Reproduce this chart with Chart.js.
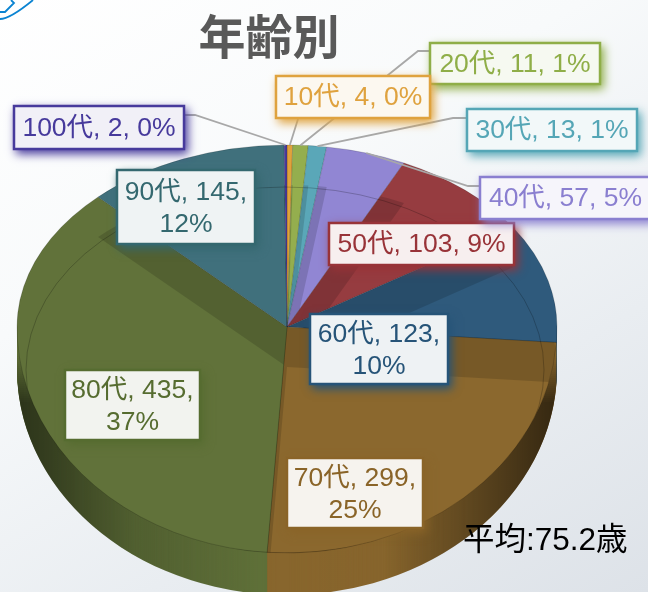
<!DOCTYPE html>
<html>
<head>
<meta charset="utf-8">
<title>年齢別</title>
<script src="https://cdn.jsdelivr.net/npm/chart.js@4"></script>
<style>
  html, body { margin: 0; padding: 0; overflow: hidden; }
  body { width: 648px; height: 592px; background: linear-gradient(150deg, #ffffff 0%, #f8fafb 35%, #e9edf1 70%, #dde2e8 100%); }
  canvas { display: block; }
</style>
</head>
<body>
<canvas id="myChart" width="648" height="592"></canvas>
<script>
const categories = ["10代", "20代", "30代", "40代", "50代", "60代", "70代", "80代", "90代", "100代"];
const counts = [4, 11, 13, 57, 103, 123, 299, 435, 145, 2];
const percents = [0, 1, 1, 5, 9, 10, 25, 37, 12, 0];
const sliceColors = ["#e0a23c", "#94ae4e", "#5aa7b8", "#9186d3", "#963c40", "#2f5a7c", "#8b682e", "#61723a", "#40707c", "#4a3a9a"];
const textColors = ["#dfa23e", "#8fae48", "#55a6b6", "#8a7fd0", "#983338", "#265478", "#8a6428", "#566c30", "#34686f", "#473a9c"];

const chartTitle = "年齢別";
const averageNote = "平均:75.2歳";

// label boxes [left, top, right, bottom], same order as categories
const boxes = [
  [275, 75, 431, 119], [429, 42, 601, 85], [466, 108, 638, 152], [479, 176, 652, 220],
  [328, 222, 515, 266], [309, 313, 449, 385], [286, 457, 424, 529], [64, 369, 201, 441],
  [116, 169, 256, 245], [13, 105, 185, 150],
];
// leader elbows, only the small slices have one
const elbows = { 0: [298, 119], 1: [418, 51], 2: [453, 118], 3: [468, 186], 9: [195, 115] };
const leaderStart = { 0: [298, 119], 1: [429, 51], 2: [466, 118], 3: [479, 186], 9: [185, 115] };

const upperScale = 182 / 270;
const lowerScale = 226 / 270;
const wallDepth = 42;
const shadowDrop = 40;
const labelFont = '26.5px "Liberation Sans", "Noto Sans CJK JP", sans-serif';

function withHalf(ctx, arc, lower, dy, fn) {
  ctx.save();
  ctx.beginPath();
  if (lower) ctx.rect(0, arc.y + dy, 648, 592);
  else ctx.rect(0, 0, 648, arc.y + dy);
  ctx.clip();
  ctx.translate(arc.x, arc.y + dy);
  ctx.scale(1, lower ? lowerScale : upperScale);
  ctx.translate(-arc.x, -arc.y);
  fn();
  ctx.restore();
}

function addSlice(ctx, arc) {
  ctx.moveTo(arc.x, arc.y);
  ctx.arc(arc.x, arc.y, arc.outerRadius, arc.startAngle, arc.endAngle);
  ctx.closePath();
}

function drawWall(ctx, arcs) {
  const a = arcs[0];
  for (let d = wallDepth; d > 0; d--) {
    arcs.forEach((arc, i) => {
      withHalf(ctx, arc, true, d, () => {
        ctx.beginPath();
        addSlice(ctx, arc);
        ctx.fillStyle = sliceColors[i];
        ctx.fill();
      });
    });
  }
  // darker toward both ends of the side wall, fades in lower down where the wall shows
  const g = ctx.createLinearGradient(a.x - a.outerRadius, 0, a.x + a.outerRadius, 0);
  g.addColorStop(0, "rgba(0,0,0,0.55)");
  g.addColorStop(0.22, "rgba(0,0,0,0.16)");
  g.addColorStop(0.45, "rgba(0,0,0,0.02)");
  g.addColorStop(0.68, "rgba(0,0,0,0.03)");
  g.addColorStop(1, "rgba(0,0,0,0.62)");
  for (let y = a.y + 25; y < 592; y += 2) {
    ctx.save();
    ctx.globalAlpha = Math.min(1, (y - a.y - 25) / 50);
    ctx.beginPath();
    ctx.rect(0, y, 648, 2);
    ctx.clip();
    ctx.beginPath();
    ctx.rect(a.x - a.outerRadius, a.y, a.outerRadius * 2, wallDepth);
    ctx.save();
    ctx.translate(a.x, a.y + wallDepth);
    ctx.scale(1, lowerScale);
    ctx.moveTo(a.outerRadius, 0);
    ctx.arc(0, 0, a.outerRadius, 0, Math.PI);
    ctx.closePath();
    ctx.restore();
    ctx.fillStyle = g;
    ctx.fill();
    ctx.restore();
  }
}

// each slice takes the shadow of the others, dropped down a little
function drawShadows(ctx, arcs) {
  [false, true].forEach((lower) => {
    arcs.forEach((arc, i) => {
      ctx.save();
      withClipOf(ctx, arc, lower);
      [false, true].forEach((shadowLower) => {
        withHalf(ctx, arc, shadowLower, shadowDrop, () => {
          ctx.beginPath();
          arcs.forEach((other, j) => {
            if (j !== i) addSlice(ctx, other);
          });
          ctx.fillStyle = "rgba(0,0,0,0.14)";
          ctx.fill();
        });
      });
      ctx.restore();
    });
  });
}

function withClipOf(ctx, arc, lower) {
  const k = lower ? lowerScale : upperScale;
  ctx.beginPath();
  ctx.rect(0, lower ? arc.y : 0, 648, lower ? 592 : arc.y);
  ctx.clip();
  ctx.save();
  ctx.translate(arc.x, arc.y);
  ctx.scale(1, k);
  ctx.translate(-arc.x, -arc.y);
  ctx.beginPath();
  addSlice(ctx, arc);
  ctx.restore();
  ctx.clip();
}

function drawRim(ctx, arcs) {
  const a = arcs[0];
  ctx.save();
  ctx.beginPath();
  ctx.ellipse(a.x, a.y, a.outerRadius, a.outerRadius * upperScale, 0, Math.PI, 0);
  ctx.ellipse(a.x, a.y, a.outerRadius, a.outerRadius * lowerScale, 0, 0, Math.PI);
  ctx.clip();
  ctx.beginPath();
  ctx.ellipse(a.x - 2, a.y + 43, a.outerRadius - 11, 183, 0, 0, Math.PI * 2);
  ctx.strokeStyle = "rgba(0,0,0,0.22)";
  ctx.lineWidth = 1;
  ctx.stroke();
  ctx.restore();
}

function drawLeaders(ctx, arcs) {
  ctx.strokeStyle = "#a8a8a8";
  ctx.lineWidth = 1.8;
  Object.keys(elbows).forEach((k) => {
    const arc = arcs[k];
    const mid = (arc.startAngle + arc.endAngle) / 2;
    const tx = arc.x + Math.cos(mid) * arc.outerRadius;
    const ty = arc.y + Math.sin(mid) * arc.outerRadius * upperScale;
    ctx.beginPath();
    ctx.moveTo(leaderStart[k][0], leaderStart[k][1]);
    ctx.lineTo(elbows[k][0], elbows[k][1]);
    ctx.lineTo(tx, ty);
    ctx.stroke();
  });
}

function drawLabels(ctx) {
  // back to front so 10代 ends up over the corner of 20代
  for (let i = categories.length - 1; i >= 0; i--) {
    const cat = categories[i];
    const [l, t, r, b] = boxes[i];
    const color = textColors[i];
    ctx.save();
    ctx.shadowColor = color;
    ctx.shadowBlur = 9;
    ctx.shadowOffsetX = 3;
    ctx.shadowOffsetY = 4;
    ctx.fillStyle = "#ffffff";
    ctx.fillRect(l, t, r - l, b - t);
    ctx.restore();
    ctx.save();
    ctx.globalAlpha = 0.08;
    ctx.fillStyle = color;
    ctx.fillRect(l, t, r - l, b - t);
    ctx.restore();
    ctx.strokeStyle = color;
    ctx.lineWidth = 2.5;
    ctx.strokeRect(l + 1, t + 1, r - l - 2, b - t - 2);

    ctx.fillStyle = color;
    ctx.font = labelFont;
    ctx.textAlign = "center";
    ctx.textBaseline = "middle";
    const cx = (l + r) / 2;
    const cy = (t + b) / 2;
    if (b - t > 60) {
      ctx.fillText(`${cat}, ${counts[i]},`, cx, cy - 14.5);
      ctx.fillText(`${percents[i]}%`, cx, cy + 18);
    } else {
      ctx.fillText(`${cat}, ${counts[i]}, ${percents[i]}%`, cx, cy + 1);
    }
  }
}

const pie3d = {
  id: "pie3d",
  beforeDatasetDraw(chart, args) {
    const ctx = chart.ctx;
    const arcs = args.meta.data;
    drawWall(ctx, arcs);
    [false, true].forEach((lower) => {
      withHalf(ctx, arcs[0], lower, 0, () => {
        arcs.forEach((arc) => arc.draw(ctx));
      });
    });
    drawShadows(ctx, arcs);
    drawRim(ctx, arcs);
    return false;
  },
  afterDatasetsDraw(chart) {
    const ctx = chart.ctx;
    const arcs = chart.getDatasetMeta(0).data;
    drawLeaders(ctx, arcs);
    drawLabels(ctx);

    ctx.fillStyle = "#595959";
    ctx.font = 'bold 47px "Noto Sans CJK JP", sans-serif';
    ctx.textAlign = "center";
    ctx.textBaseline = "middle";
    ctx.fillText(chartTitle, 269, 36);

    ctx.fillStyle = "#000000";
    ctx.font = '31.5px "Liberation Sans", "Noto Sans CJK JP", sans-serif';
    ctx.textAlign = "left";
    ctx.fillText(averageNote, 463, 541);

    // bit of another shape cut off by the corner
    ctx.strokeStyle = "#0b84d2";
    ctx.lineWidth = 1.8;
    ctx.beginPath();
    ctx.moveTo(0, 12);
    ctx.lineTo(5, 12);
    ctx.lineTo(14, 3);
    ctx.lineTo(11, 0);
    ctx.moveTo(0, 19);
    ctx.quadraticCurveTo(10, 19, 33, 0);
    ctx.stroke();
  },
};

new Chart(document.getElementById("myChart"), {
  type: "pie",
  data: {
    labels: categories,
    datasets: [
      {
        data: counts,
        backgroundColor: sliceColors,
        borderColor: "rgba(0,0,0,0.18)",
        borderWidth: 1,
      },
    ],
  },
  options: {
    responsive: false,
    animation: false,
    radius: 270,
    layout: { padding: { left: 0, right: 74, top: 62, bottom: 0 } },
    plugins: {
      legend: { display: false },
      tooltip: { enabled: false },
    },
  },
  plugins: [pie3d],
});
</script>
</body>
</html>
